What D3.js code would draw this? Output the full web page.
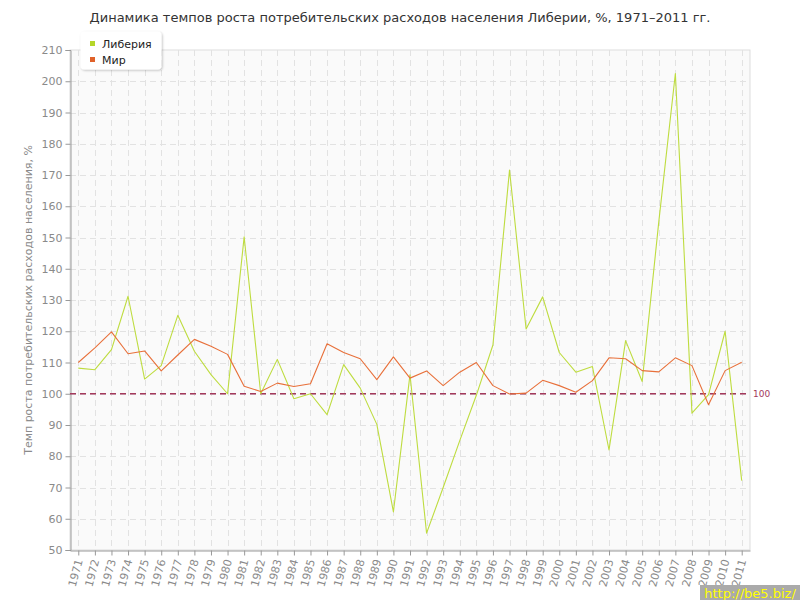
<!DOCTYPE html>
<html>
<head>
<meta charset="utf-8">
<script src="https://cdn.jsdelivr.net/npm/d3@7"></script>
<style>
  body { margin: 0; background: #fff; }
  svg { display: block; }
  text { font-family: "DejaVu Sans", Verdana, sans-serif; }
</style>
</head>
<body>
<svg id="chart" width="800" height="600"></svg>
<script>
const years = d3.range(1971, 2012);
const liberia = [108.2, 107.7, 114.1, 131.2, 104.7, 109.0, 125.1, 113.6, 106.1, 100.0,
  150.2, 100.0, 111.0, 98.4, 100.0, 93.3, 109.3, 101.8, 90.2, 62.2,
  106.1, 55.4, 70.0, 85.0, 99.5, 115.6, 171.6, 120.7, 131.0, 113.2,
  106.9, 108.7, 82.0, 117.0, 103.9, 155.0, 202.5, 93.8, 99.7, 120.0, 72.2];
const world = [110.0, 114.7, 119.8, 112.8, 113.7, 107.3, 112.4, 117.4, 115.2, 112.6,
  102.4, 100.7, 103.4, 102.3, 103.2, 116.0, 113.2, 111.2, 104.5, 111.8,
  105.0, 107.3, 102.6, 106.9, 110.0, 102.6, 99.9, 100.2, 104.3, 102.6,
  100.5, 104.2, 111.5, 111.2, 107.4, 107.0, 111.5, 109.0, 96.5, 107.4, 110.1];
const yTicks = d3.range(50, 211, 10);
const seriesNames = ["Либерия", "Мир"];
const seriesColors = ["#bedc3f", "#e8703a"];
const legendColors = ["#b5d629", "#e0622a"];
const refValue = 100;
const title = "Динамика темпов роста потребительских расходов населения Либерии, %, 1971–2011 гг.";
const yTitle = "Темп роста потребительских расходов населения, %";

const svg = d3.select("#chart");
const L = 70, R = 750, T = 50, B = 550;
const x = d3.scaleLinear().domain([1970.5, 2011.5]).range([L, R]);
const y = d3.scaleLinear().domain([50, 210]).range([B, T]);

// plot background
svg.append("rect").attr("x", L).attr("y", T).attr("width", R - L).attr("height", B - T)
  .attr("fill", "#fafafa").attr("stroke", "#dddddd").attr("stroke-width", 1);

// grid
const grid = svg.append("g").attr("stroke", "#e2e2e2").attr("stroke-dasharray", "6,4").attr("stroke-width", 1);
grid.selectAll("line.h").data(yTicks.filter(v => v > 50 && v < 210)).enter().append("line")
  .attr("x1", L).attr("x2", R).attr("y1", d => Math.round(y(d)) + 0.5).attr("y2", d => Math.round(y(d)) + 0.5);
grid.selectAll("line.v").data(years).enter().append("line")
  .attr("y1", T).attr("y2", B).attr("x1", d => Math.round(x(d)) + 0.5).attr("x2", d => Math.round(x(d)) + 0.5);

// axes
const yAxis = d3.axisLeft(y).tickValues(yTicks).tickSize(5).tickPadding(3);
const gy = svg.append("g").attr("transform", `translate(${L + 0.5},0)`).call(yAxis);
gy.select(".domain").attr("stroke", "#999");
gy.selectAll(".tick line").attr("stroke", "#999");
gy.selectAll(".tick text").attr("fill", "#8a8a8a").style("font-size", "11px").style("font-family", "DejaVu Sans");

const xAxis = d3.axisBottom(x).tickValues(years).tickFormat(d3.format("d")).tickSize(5).tickSizeOuter(0);
const gx = svg.append("g").attr("transform", `translate(0,${B + 0.5})`).call(xAxis);
gx.select(".domain").attr("stroke", "#999");
gx.selectAll(".tick line").attr("stroke", "#999");
gx.selectAll(".tick text").attr("fill", "#8a8a8a").style("font-size", "11px").style("font-family", "DejaVu Sans")
  .attr("text-anchor", "end").attr("dy", null).attr("y", 0)
  .attr("transform", "translate(4,10) rotate(-75)");

// reference line
svg.append("line").attr("x1", L).attr("x2", R).attr("y1", y(refValue)).attr("y2", y(refValue))
  .attr("stroke", "#a3395c").attr("stroke-width", 1.3).attr("stroke-dasharray", "6,4");
svg.append("text").attr("x", R + 3).attr("y", y(refValue) + 3).text(String(refValue))
  .attr("fill", "#a3395c").style("font-size", "9px");

// lines
const line = d3.line().x((d, i) => x(years[i])).y(d => y(d));
[liberia, world].forEach((s, k) => {
  svg.append("path").datum(s).attr("d", line).attr("fill", "none")
    .attr("stroke", seriesColors[k]).attr("stroke-width", 1.1).attr("stroke-linejoin", "round");
});

// title
svg.append("text").attr("x", 400).attr("y", 22).attr("text-anchor", "middle")
  .attr("fill", "#333").style("font-size", "13px").text(title);

// y title
svg.append("text").attr("transform", `translate(32,${(T + B) / 2}) rotate(-90)`).attr("text-anchor", "middle")
  .attr("fill", "#8a8a8a").style("font-size", "11px").text(yTitle);

// legend
const defs = svg.append("defs");
const f = defs.append("filter").attr("id", "sh").attr("x", "-20%").attr("y", "-20%").attr("width", "140%").attr("height", "150%");
f.append("feDropShadow").attr("dx", 1).attr("dy", 1).attr("stdDeviation", 1.2).attr("flood-color", "#000").attr("flood-opacity", 0.25);
svg.append("rect").attr("x", 80.5).attr("y", 31.5).attr("width", 81).attr("height", 38).attr("rx", 4)
  .attr("fill", "#fff").attr("filter", "url(#sh)");
seriesNames.forEach((n, k) => {
  svg.append("rect").attr("x", 90).attr("y", 41 + k * 16).attr("width", 5).attr("height", 5).attr("fill", legendColors[k]);
  svg.append("text").attr("x", 102).attr("y", 47.5 + k * 16).attr("fill", "#222").style("font-size", "11px").text(n);
});

// watermark
svg.append("rect").attr("x", 700).attr("y", 585).attr("width", 100).attr("height", 15).attr("fill", "#aaaaaa");
svg.append("text").attr("x", 750).attr("y", 598).attr("text-anchor", "middle").attr("fill", "#ffff00")
  .style("font-size", "13px").text("http://be5.biz/");
</script>
</body>
</html>
